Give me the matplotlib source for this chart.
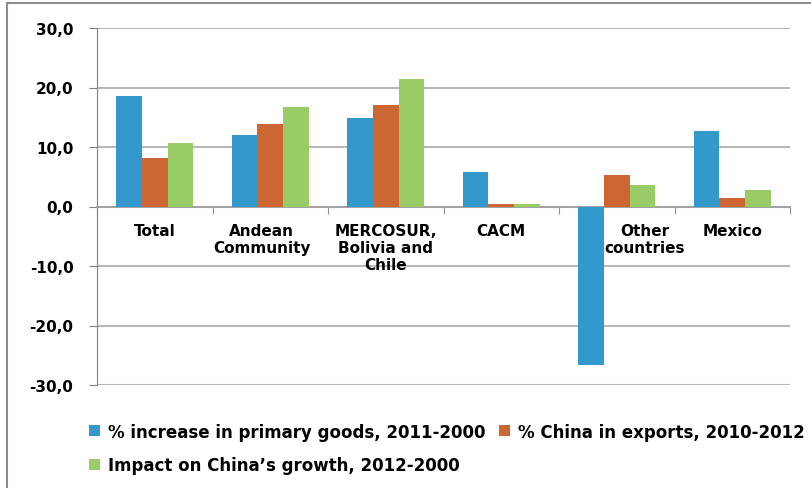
import numpy as np
import matplotlib.pyplot as plt
from matplotlib.patches import Rectangle

# Regiões e séries
regioes = ['Total', 'Andean\nCommunity', 'MERCOSUR,\nBolivia and\nChile', 'CACM',
           'Other\ncountries', 'Mexico']
aumento_primarios = [18.5, 12.0, 14.8, 5.8, -26.6, 12.7]
china_exportacoes = [8.2, 13.8, 17.0, 0.4, 5.3, 1.5]
impacto_china = [10.6, 16.8, 21.5, 0.4, 3.6, 2.7]

nomes_series = ['% increase in primary goods, 2011-2000',
                '% China in exports, 2010-2012',
                "Impact on China\u2019s growth, 2012-2000"]
cores = ['#3399cc', '#cc6633', '#99cc66']

plt.rcParams['font.family'] = ['DejaVu Sans']

fig = plt.figure(figsize=(8.11, 4.89), dpi=100)
ax = fig.add_axes([97 / 811, 1 - 386 / 489, (790 - 97) / 811, (386 - 29) / 489])

x = np.arange(len(regioes))
largura = 0.222
barras = []
for k, (valores, cor) in enumerate(zip([aumento_primarios, china_exportacoes, impacto_china], cores)):
    b = ax.bar(x + (k - 1) * largura, valores, width=largura, color=cor, zorder=3)
    barras.append(b)

ax.set_xlim(-0.5, len(regioes) - 0.5)
ax.set_ylim(-30, 30)
ax.set_yticks(np.arange(-30, 31, 10))
ax.set_yticklabels([f'{v:.1f}'.replace('.', ',') for v in np.arange(-30, 31, 10)],
                   fontsize=11, fontweight='bold')
ax.yaxis.grid(True, color='#b8b8b8', linewidth=1.5, zorder=0)
ax.tick_params(axis='y', direction='out', length=6, color='#808080', pad=11)

# eixo x na linha do zero
ax.spines['bottom'].set_position(('data', 0))
ax.spines['bottom'].set_color('#a0a0a0')
ax.spines['bottom'].set_linewidth(1.3)
ax.spines['left'].set_color('#808080')
ax.spines['top'].set_visible(False)
ax.spines['right'].set_visible(False)
ax.set_xticks(np.arange(-0.5, len(regioes), 1))
ax.set_xticklabels([])
ax.tick_params(axis='x', direction='out', length=5, color='#909090')

deslocamento = {'Andean\nCommunity': -6, 'Other\ncountries': 20}
for i, nome in enumerate(regioes):
    ax.annotate(nome, xy=(i, 0), xytext=(deslocamento.get(nome, 0), -12),
                textcoords='offset points', ha='center', va='top',
                fontsize=11, fontweight='bold', linespacing=1.15, zorder=4)

# legenda em duas colunas
ordem = [0, 2, 1]
fig.legend([barras[i] for i in ordem], [nomes_series[i] for i in ordem],
           ncol=2, loc='upper left', bbox_to_anchor=(82 / 811, 1 - 417 / 489),
           frameon=False, prop={'weight': 'bold', 'size': 12},
           handlelength=0.65, handleheight=0.65, handletextpad=0.5,
           columnspacing=0.8, labelspacing=0.95, borderaxespad=0)

# moldura do gráfico
fig.patches.append(Rectangle((7 / 811, -0.1), 1.0, 1.1 - 4 / 489,
                             transform=fig.transFigure, fill=False,
                             edgecolor='#8c8c8c', linewidth=1.5))

fig.savefig('out.png', dpi=100)
